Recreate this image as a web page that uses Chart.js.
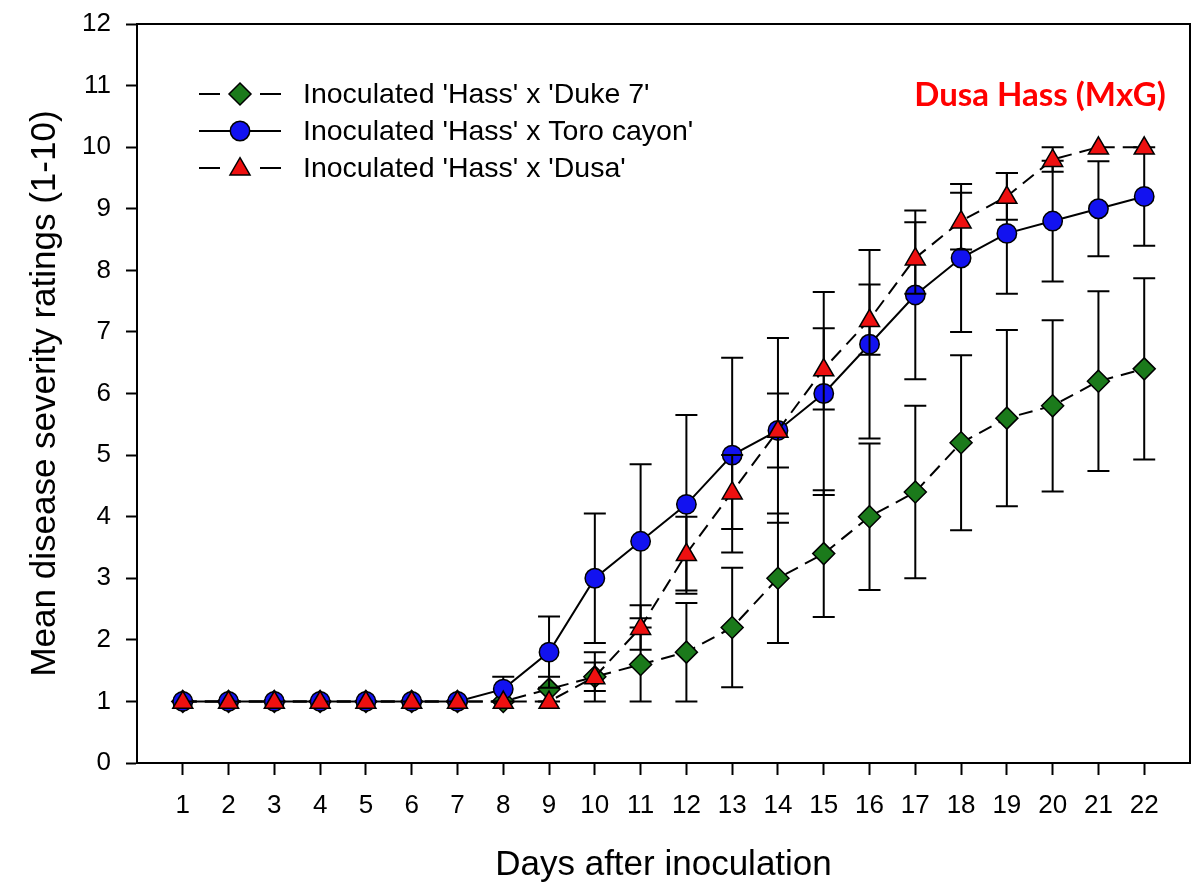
<!DOCTYPE html>
<html><head><meta charset="utf-8">
<script src="https://cdn.jsdelivr.net/npm/chart.js@4.4.1/dist/chart.umd.min.js"></script>
<style>html,body{margin:0;padding:0;background:#fff;overflow:hidden}#wrap{width:1192px;height:893px}</style>
</head><body><div id="wrap"><canvas id="c" width="1192" height="893"></canvas></div>
<script>
const days = [1,2,3,4,5,6,7,8,9,10,11,12,13,14,15,16,17,18,19,20,21,22];
const yTicks = [0,1,2,3,4,5,6,7,8,9,10,11,12];
const seriesNames = ["Inoculated 'Hass' x 'Duke 7'", "Inoculated 'Hass' x Toro cayon'", "Inoculated 'Hass' x 'Dusa'"];
const duke7Mean = [1,1,1,1,1,1,1,1,1.2,1.4,1.6,1.8,2.2,3.0,3.4,4.0,4.4,5.2,5.6,5.8,6.2,6.4];
const duke7Err  = [0,0,0,0,0,0,0,0,0.2,0.4,0.6,0.8,0.97,1.05,1.03,1.19,1.4,1.42,1.43,1.39,1.46,1.47];
const toroMean  = [1,1,1,1,1,1,1,1.2,1.8,3.0,3.6,4.2,5.0,5.4,6.0,6.8,7.6,8.2,8.6,8.8,9.0,9.2];
const toroErr   = [0,0,0,0,0,0,0,0.2,0.58,1.05,1.25,1.45,1.58,1.5,1.65,1.53,1.37,1.2,0.98,0.98,0.77,0.8];
const dusaMean  = [1,1,1,1,1,1,1,1,1,1.4,2.2,3.4,4.4,5.4,6.4,7.2,8.2,8.8,9.2,9.8,10,10];
const dusaErr   = [0,0,0,0,0,0,0,0,0,0.23,0.36,0.6,0.6,0.6,0.66,0.57,0.58,0.46,0.38,0.2,0,0];
const annotationText = 'Dusa Hass (MxG)';
const xTitle = 'Days after inoculation';
const yTitle = 'Mean disease severity ratings (1-10)';

const FONT = "'Liberation Sans', Arial, sans-serif";
const pts = (m) => days.map((d, i) => ({x: d, y: m[i]}));

function drawMarker(ctx, style, x, y, r, fill) {
  ctx.save();
  ctx.fillStyle = fill; ctx.strokeStyle = '#000'; ctx.lineWidth = 1.5; ctx.setLineDash([]);
  ctx.beginPath();
  if (style === 'circle') { ctx.arc(x, y, r, 0, Math.PI * 2); }
  else if (style === 'rectRot') { ctx.moveTo(x, y - r); ctx.lineTo(x + r, y); ctx.lineTo(x, y + r); ctx.lineTo(x - r, y); ctx.closePath(); }
  else { const h = r * 1.5; ctx.moveTo(x, y - h * 0.6); ctx.lineTo(x + r * 0.87, y + h * 0.4); ctx.lineTo(x - r * 0.87, y + h * 0.4); ctx.closePath(); }
  ctx.fill(); ctx.stroke();
  ctx.restore();
}

const seriesDefs = [
  {label: seriesNames[0], mean: duke7Mean, err: duke7Err, style: 'rectRot', r: 11, fill: '#1b7a1b', dash: [14, 8], order: 3},
  {label: seriesNames[1], mean: toroMean, err: toroErr, style: 'circle', r: 9.7, fill: '#1212f0', dash: [], order: 2},
  {label: seriesNames[2], mean: dusaMean, err: dusaErr, style: 'triangle', r: 11.5, fill: '#ee1010', dash: [14, 8], order: 1}
];

const errPlugin = {
  id: 'errbars',
  beforeDatasetDraw(chart, args) {
    const def = seriesDefs[args.index];
    const xs = chart.scales.x, ys = chart.scales.y, ctx = chart.ctx;
    ctx.save();
    ctx.strokeStyle = '#000'; ctx.lineWidth = 2; ctx.setLineDash([]);
    def.mean.forEach((m, i) => {
      const e = def.err[i]; if (!e) return;
      const x = xs.getPixelForValue(days[i]);
      const yt = ys.getPixelForValue(m + e), yb = ys.getPixelForValue(m - e);
      ctx.beginPath();
      ctx.moveTo(x, yt); ctx.lineTo(x, yb);
      ctx.moveTo(x - 11, yt); ctx.lineTo(x + 11, yt);
      ctx.moveTo(x - 11, yb); ctx.lineTo(x + 11, yb);
      ctx.stroke();
    });
    ctx.restore();
  }
};

const markerPlugin = {
  id: 'markers',
  afterDatasetDraw(chart, args) {
    const def = seriesDefs[args.index];
    const xs = chart.scales.x, ys = chart.scales.y, ctx = chart.ctx;
    def.mean.forEach((m, i) => drawMarker(ctx, def.style, xs.getPixelForValue(days[i]), ys.getPixelForValue(m), def.r, def.fill));
  }
};

const framePlugin = {
  id: 'frame',
  afterDraw(chart) {
    const {ctx, chartArea: a} = chart;
    ctx.save();
    ctx.strokeStyle = '#000'; ctx.lineWidth = 2;
    ctx.strokeRect(a.left, a.top, a.right - a.left, a.bottom - a.top);
    // legend
    const lx0 = a.left + 62, lx1 = a.left + 144, mx = a.left + 103, tx = a.left + 166;
    const rowY = [a.top + 70, a.top + 107, a.top + 144];
    ctx.font = '28.5px ' + FONT; ctx.fillStyle = '#000'; ctx.textBaseline = 'middle'; ctx.textAlign = 'left';
    seriesDefs.forEach((d, i) => {
      const y = rowY[i];
      ctx.beginPath(); ctx.lineWidth = 2; ctx.strokeStyle = '#000';
      if (d.dash.length) {
        ctx.moveTo(lx0, y); ctx.lineTo(lx0 + 21, y);
        ctx.moveTo(lx1 - 21, y); ctx.lineTo(lx1, y);
      } else { ctx.moveTo(lx0, y); ctx.lineTo(lx1, y); }
      ctx.stroke();
      drawMarker(ctx, d.style, mx, y, d.r, d.fill);
      ctx.fillText(d.label, tx, y + 1);
    });
    ctx.font = "bold 33px Lato, 'Open Sans', sans-serif"; ctx.fillStyle = '#ff0000'; ctx.textAlign = 'center';
    ctx.fillText(annotationText, a.left + 903, a.top + 71);
    ctx.restore();
  }
};

new Chart(document.getElementById('c'), {
  type: 'line',
  data: {
    datasets: seriesDefs.map(d => ({
      label: d.label, data: pts(d.mean), order: d.order,
      borderColor: '#000', borderWidth: 2, borderDash: d.dash,
      pointRadius: 0, pointHoverRadius: 0, fill: false, tension: 0
    }))
  },
  options: {
    responsive: false, animation: false, devicePixelRatio: 1,
    events: [],
    layout: {padding: {top: 24, right: 2, left: 0, bottom: 0}},
    plugins: {legend: {display: false}, tooltip: {enabled: false}},
    scales: {
      x: {
        type: 'linear', min: 0, max: 23,
        afterBuildTicks: s => { s.ticks = days.map(v => ({value: v})); },
        afterFit: s => { s.height = 130; s.paddingLeft = 0; s.paddingRight = 0; },
        grid: {display: true, drawOnChartArea: false, drawTicks: true, tickLength: 12, tickWidth: 2, tickColor: '#000'},
        border: {display: true, color: '#000', width: 2},
        ticks: {font: {family: FONT, size: 26}, color: '#000', padding: 15, maxRotation: 0, autoSkip: false},
        title: {display: true, text: xTitle, font: {family: FONT, size: 35}, color: '#000', padding: {top: 0, bottom: 7}}
      },
      y: {
        type: 'linear', min: 0, max: 12,
        afterBuildTicks: s => { s.ticks = yTicks.map(v => ({value: v})); },
        afterFit: s => { s.width = 137; s.paddingTop = 0; s.paddingBottom = 0; },
        grid: {display: true, drawOnChartArea: false, drawTicks: true, tickLength: 11, tickWidth: 2, tickColor: '#000'},
        border: {display: true, color: '#000', width: 2},
        ticks: {font: {family: FONT, size: 26}, color: '#000', padding: 15},
        title: {display: true, text: yTitle, font: {family: FONT, size: 35}, color: '#000', padding: {top: 24, bottom: 0}}
      }
    }
  },
  plugins: [errPlugin, markerPlugin, framePlugin]
});
</script></body></html>
